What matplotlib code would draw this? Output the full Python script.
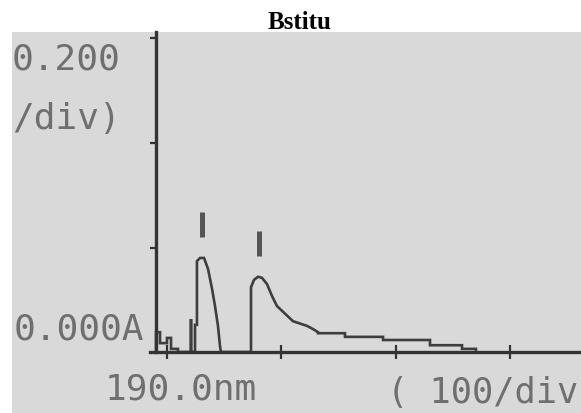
import numpy as np
import matplotlib.pyplot as plt


# Spectrum (wavelength in nm, absorbance in A)
wavelength = [180.4, 180.4, 183.9, 183.9, 190.0, 190.0, 193.5, 193.5, 199.6, 199.6,
              210.8, 211.0, 211.2,
              214.5, 214.5, 216.2, 216.2, 218.9, 222.4, 225.9, 229.4, 232.0, 234.6,
              236.4, 237.2,
              263.5, 263.5, 266.1, 269.6, 273.1, 277.5, 281.9, 286.2, 291.5, 300.2,
              312.5, 317.7, 322.1, 322.1, 345.7, 345.7, 379.0, 379.0, 420.1, 420.1,
              448.1, 448.1, 460.3, 460.3]
absorbance = [0.0, 0.038, 0.038, 0.017, 0.017, 0.027, 0.027, 0.006, 0.006, 0.0,
              0.0, 0.063, 0.0,
              0.0, 0.052, 0.052, 0.174, 0.180, 0.180, 0.159, 0.121, 0.088, 0.050,
              0.011, 0.0,
              0.0, 0.124, 0.138, 0.144, 0.142, 0.130, 0.107, 0.088, 0.077, 0.059,
              0.050, 0.044, 0.038, 0.036, 0.036, 0.029, 0.029, 0.023, 0.023, 0.013,
              0.013, 0.006, 0.006, 0.0]

# Peak pick markers
peak_nm = np.array([220.6, 270.5])
peak_abs = np.array([0.180, 0.144])

x_ticks = [190, 290, 390, 490]
y_ticks = [0.2, 0.4, 0.6]

W, H = 581, 414
paper = "#d9d9d9"
ink = "#333333"
print_grey = "#6f6f6f"


def ax_pos(px, py):
    # pixel position in the figure -> axes fraction
    return (px - 12) / (W - 12), (H - py) / (H - 33)


fig = plt.figure(figsize=(W / 100, H / 100), dpi=100)
fig.patch.set_facecolor("white")
ax = fig.add_axes([12 / W, 0, (W - 12) / W, (H - 33) / H])
ax.set_facecolor(paper)

ax.set_xlim(54.4, 552.2)
ax.set_ylim(-0.1167, 0.6124)

# axis lines like the instrument printout
for side in ["top", "right"]:
    ax.spines[side].set_visible(False)
ax.spines["left"].set_position(("data", 180.0))
ax.spines["bottom"].set_position(("data", 0.0))
ax.spines["left"].set_bounds(0, 0.6124)
ax.spines["bottom"].set_bounds(175, 552.2)
for side in ["left", "bottom"]:
    ax.spines[side].set_color(ink)
    ax.spines[side].set_linewidth(2.4)

ax.set_xticks(x_ticks)
ax.set_yticks(y_ticks)
ax.set_xticklabels([])
ax.set_yticklabels([])
ax.tick_params(axis="x", direction="inout", length=10, width=1.6, color=ink)
ax.tick_params(axis="y", direction="out", length=4, width=1.6, color=ink)

ax.plot(wavelength, absorbance, color="#3e3e3e", lw=1.9, solid_joinstyle="miter")
ax.vlines(peak_nm, peak_abs + 0.040, peak_abs + 0.087, color="#555555", lw=3.6)

# printed labels
mono = dict(family="DejaVu Sans Mono", fontsize=26, color=print_grey,
            transform=ax.transAxes, va="baseline", ha="left")
ax.text(*ax_pos(12, 70), "0.200", **mono)
ax.text(*ax_pos(12, 129), "/div)", **mono)
ax.text(*ax_pos(13.5, 340), "0.000A", **mono)
ax.text(*ax_pos(105, 400), "190.0nm", **mono)
mono["fontsize"] = 25.5
ax.text(*ax_pos(387, 403), "( 100/div", **mono)

fig.text(300 / W, 1 - 29 / H, "Bstitu", family="Liberation Serif",
         fontweight="bold", fontsize=18, ha="center", va="baseline")

plt.savefig("out.png", dpi=100)
